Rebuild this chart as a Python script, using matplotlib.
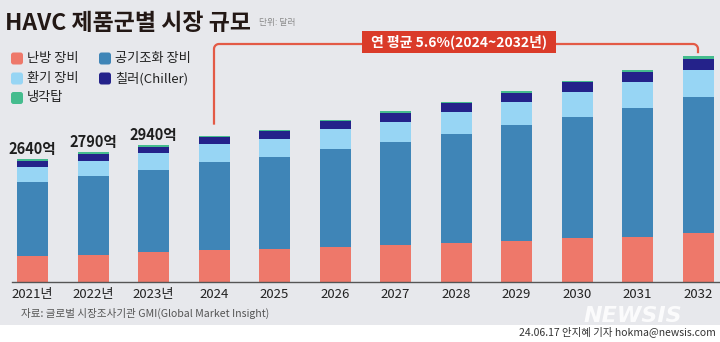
import numpy as np
import matplotlib
matplotlib.use("Agg")
import matplotlib.pyplot as plt
from matplotlib.patches import FancyBboxPatch, Rectangle

# Market size by HVAC product group, unit: 100 million USD (억 달러)
years = ["2021년", "2022년", "2023년", "2024", "2025", "2026",
         "2027", "2028", "2029", "2030", "2031", "2032"]
heating = [560, 590, 640, 690, 710, 760, 795, 840, 890, 940, 975, 1055]
air_cond = [1600, 1700, 1775, 1900, 1980, 2100, 2215, 2340, 2480, 2620, 2780, 2935]
ventilation = [315, 325, 360, 370, 395, 425, 435, 475, 495, 525, 555, 580]
chiller = [135, 150, 140, 165, 165, 180, 195, 195, 210, 215, 215, 235]
cooling_tower = [30, 25, 25, 25, 25, 25, 30, 30, 30, 35, 45, 55]
labeled_years = [0, 1, 2]
cagr_text = "연 평균 5.6%(2024~2032년)"

series = [
    ("난방 장비", heating, "#EE786A"),
    ("공기조화 장비", air_cond, "#3F85B7"),
    ("환기 장비", ventilation, "#97D5F4"),
    ("칠러(Chiller)", chiller, "#24228A"),
    ("냉각탑", cooling_tower, "#45BC8E"),
]

KR = ["Noto Sans CJK KR", "DejaVu Sans"]
plt.rcParams["font.family"] = KR

BG = "#E7E8EC"
W, H = 720, 342
fig = plt.figure(figsize=(W / 100, H / 100), dpi=100)
fig.patch.set_facecolor(BG)
fig.add_artist(Rectangle((0, 0), 1, 17 / H, transform=fig.transFigure,
                         facecolor="white", edgecolor="none", zorder=0))

# bar axes: baseline 60 px above the bottom edge
px_per_unit = 0.04646
step = 60.5
x0 = 32.5
ax = fig.add_axes([0, 60 / H, 1, 242 / H])
ax.set_xlim(-x0 / step, (W - x0) / step)
ax.set_ylim(0, 242 / px_per_unit)
ax.patch.set_visible(False)
for s in ax.spines.values():
    s.set_visible(False)
ax.set_yticks([])

x = np.arange(len(years))
bottom = np.zeros(len(years))
for name, vals, col in series:
    ax.bar(x, vals, bottom=bottom, width=31 / step, color=col, linewidth=0, zorder=2)
    bottom += np.array(vals)
totals = bottom

ax.set_xticks(x)
ax.set_xticklabels(years, fontsize=9.5, color="#222222")
ax.tick_params(axis="x", length=0, pad=4)
ax.plot([12 / W, 1], [0, 0], transform=ax.transAxes, color="#555555",
        lw=1.0, clip_on=False, zorder=3)

for i in labeled_years:
    ax.annotate(f"{int(round(totals[i]))}억", (x[i], totals[i]), xytext=(0, 1.5),
                textcoords="offset points", ha="center", va="bottom",
                fontsize=10.5, fontweight="bold", color="#1E1E1E")

# overlay axes in pixel units (origin bottom-left)
ov = fig.add_axes([0, 0, 1, 1], zorder=5)
ov.set_xlim(0, W)
ov.set_ylim(0, H)
ov.axis("off")

ov.text(5, H - 23, "HAVC 제품군별 시장 규모", fontsize=16.5, fontweight="heavy",
        color="#231815", va="center", ha="left")
ov.text(259, H - 23, "단위: 달러", fontsize=6.3, color="#8A8A8A", va="center", ha="left")

# legend
legend_pos = [(10, 58.5), (98, 58.5), (10, 78.5), (98, 78.5), (10, 98)]
for (name, vals, col), (lx, ly) in zip(series, legend_pos):
    ov.add_patch(FancyBboxPatch((lx + 1, H - ly - 6), 12, 12,
                                boxstyle="round,pad=0,rounding_size=2.5",
                                facecolor=col, edgecolor="none"))
    ov.text(lx + 17, H - ly, name, fontsize=9.5, color="#222222",
            va="center", ha="left")

# growth bracket from the 2024 bar to the 2032 bar
fig.canvas.draw()
to_px = ax.transData
sx, sy = to_px.transform((x[3], totals[3]))
ex, ey = to_px.transform((x[-1], totals[-1]))
sy += 11
ey += 3
hy = H - 44
r = 5
t = np.linspace(0, np.pi / 2, 12)
path_x = np.concatenate([[sx], sx + r - r * np.cos(t), ex - r + r * np.sin(t), [ex]])
path_y = np.concatenate([[sy], hy - r + r * np.sin(t), hy - r + r * np.cos(t), [ey]])
red_line = "#E35A46"
ov.plot(path_x, path_y, color=red_line, lw=1.6, solid_capstyle="butt", zorder=4)
ov.add_patch(Rectangle((362, H - 53), 194, 22, facecolor="#DA3B29",
                       edgecolor="none", zorder=5))
ov.text(459, H - 42, cagr_text, fontsize=10, fontweight="bold", color="white",
        ha="center", va="center", zorder=6)

# footer
ov.text(21, H - 313, "자료: 글로벌 시장조사기관 GMI(Global Market Insight)",
        fontsize=7.6, color="#555555", va="center", ha="left")
ov.text(633, H - 322.5, "NEWSIS", fontsize=16, fontweight="bold", style="italic",
        color="white", alpha=0.85, ha="center", va="baseline",
        family=["DejaVu Sans"], zorder=6)
ov.text(716, H - 332, "24.06.17 안지혜 기자 hokma@newsis.com", fontsize=7.5,
        color="#333333", va="center", ha="right")

fig.savefig("out.png", dpi=100, facecolor=fig.get_facecolor())
